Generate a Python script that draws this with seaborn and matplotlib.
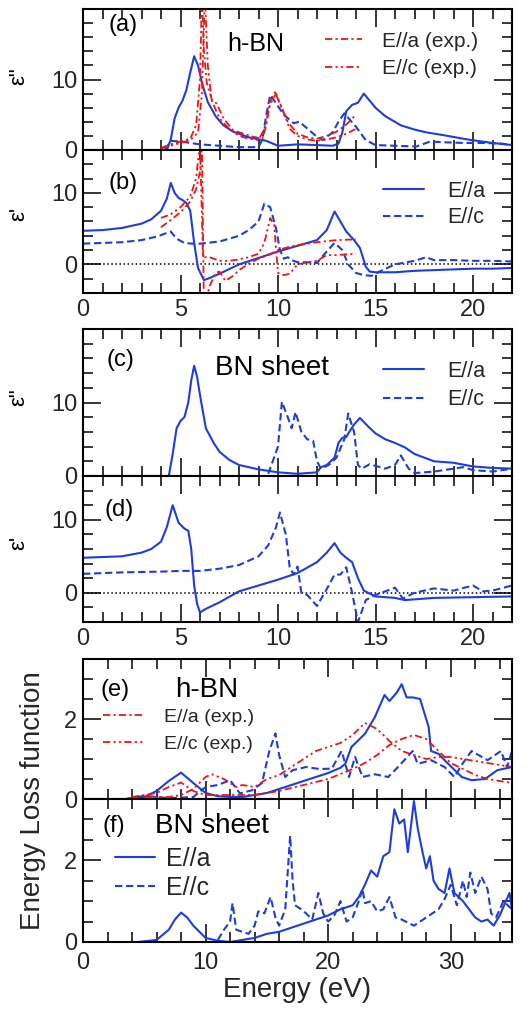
import pandas as pd
import matplotlib
matplotlib.use("Agg")
import matplotlib.pyplot as plt
from matplotlib.ticker import MultipleLocator
import seaborn as sns

# ---------------- data ----------------
# (a) h-BN, eps'' (imaginary part)
a_sol_x = [4.3, 4.5, 4.7, 4.9, 5.1, 5.3, 5.5, 5.7, 5.9, 6.1, 6.4, 6.8, 7.2, 7.7, 8.5, 9.4, 10.0, 11.0, 12.0, 12.8,
           13.1, 13.3, 13.5, 13.8, 14.1, 14.4, 14.7, 15.0, 15.5, 16.3, 17.0, 17.6, 18.5, 19.7, 21.0, 22.0]
a_sol_y = [0.0, 1.5, 4.5, 6.0, 7.0, 8.5, 11.0, 13.3, 12.0, 9.5, 6.8, 4.8, 3.5, 2.6, 1.8, 1.3, 0.6, 0.8, 0.7, 0.6,
           0.9, 2.5, 5.5, 6.4, 6.7, 8.0, 7.0, 6.0, 4.8, 3.5, 2.9, 2.5, 2.1, 1.5, 1.0, 0.7]
a_dash_x = [4.2, 4.5, 5.0, 5.5, 6.0, 7.0, 8.0, 9.0, 9.2, 9.4, 9.6, 9.8, 10.3, 10.8, 11.1, 11.9, 12.3, 12.8, 13.1,
            13.4, 14.0, 14.5, 15.0, 16.0, 17.1, 17.8, 18.5, 19.5, 20.5, 21.5, 22.0]
a_dash_y = [0.0, 1.3, 1.2, 1.0, 0.8, 0.6, 0.4, 0.4, 1.5, 5.0, 7.8, 7.0, 5.0, 3.8, 4.0, 2.1, 1.4, 2.5, 4.0,
            5.2, 3.3, 1.4, 0.7, 0.6, 0.5, 1.2, 1.1, 1.0, 1.0, 0.9, 0.7]
a_expa_x = [4.0, 4.5, 5.0, 5.5, 5.8, 6.0, 6.1, 6.2, 6.35, 6.6, 6.85, 7.2, 7.7, 8.7, 9.2, 9.4, 9.6, 9.85, 10.1,
            10.5, 11.0, 11.5, 12.0, 12.5, 13.0, 13.5, 14.0]
a_expa_y = [0.3, 0.8, 1.2, 1.6, 3.5, 10.0, 22.0, 14.0, 9.5, 7.2, 6.6, 4.5, 2.8, 1.9, 1.6, 3.5, 7.0, 8.2, 6.5,
            4.0, 2.3, 1.8, 1.6, 2.0, 2.6, 3.6, 5.0]
a_expc_x = [4.0, 4.5, 5.0, 5.5, 5.9, 6.1, 6.25, 6.4, 6.6, 7.0, 7.5, 8.0, 8.5, 9.0, 9.3, 9.6, 9.9, 10.2, 10.6,
            11.0, 11.5, 12.0, 12.5, 13.0, 13.5, 14.0]
a_expc_y = [0.2, 0.6, 1.0, 1.4, 2.5, 8.0, 22.0, 12.0, 7.0, 4.5, 3.0, 2.0, 1.6, 1.4, 3.0, 6.5, 8.0, 6.0, 3.0,
            2.0, 1.5, 1.3, 1.5, 1.8, 2.3, 3.0]

# (b) h-BN, eps' (real part)
b_sol_x = [0, 1, 2, 3, 3.5, 4.0, 4.3, 4.5, 4.7, 4.9, 5.1, 5.3, 5.5, 5.7, 5.9, 6.2, 6.5, 7.0, 8.0, 9.0, 10.0,
           11.0, 12.0, 12.5, 12.9, 13.5, 13.9, 14.2, 14.5, 14.7, 15.0, 16.0, 17.0, 18.0, 19.0, 20.0, 21.0, 22.0]
b_sol_y = [4.7, 4.8, 5.1, 5.7, 6.3, 7.5, 9.2, 11.4, 10.0, 9.3, 9.0, 8.6, 7.5, 3.0, -0.5, -2.2, -1.9, -1.3, 0.0,
           0.9, 1.8, 2.6, 3.4, 4.8, 7.4, 4.6, 3.4, 2.3, -0.3, -1.0, -1.1, -1.1, -0.9, -0.8, -0.7, -0.6, -0.6, -0.5]
b_dash_x = [0, 1, 2, 3, 3.8, 4.3, 4.5, 4.8, 5.2, 5.6, 6.0, 7.0, 8.0, 8.5, 9.0, 9.3, 9.6, 9.9, 10.1, 10.3, 10.5,
            10.7, 11.0, 11.5, 12.0, 12.4, 12.9, 13.3, 13.6, 14.0, 14.4, 14.8, 15.2, 16.0, 17.0, 17.6, 18.0, 19.0,
            20.0, 21.0, 22.0]
b_dash_y = [2.9, 3.0, 3.1, 3.4, 3.9, 4.4, 4.6, 3.6, 3.0, 2.9, 2.9, 3.2, 4.0, 4.8, 6.0, 8.5, 8.0, 5.0, 2.0, 0.8,
            1.0, 0.6, 0.3, 0.3, 0.2, 1.5, 3.0, 2.0, 0.0, -1.2, -1.5, -1.6, -1.0, 0.0, 0.5, 1.0, 0.6, 0.6, 0.5,
            0.5, 0.4]
b_expa_x = [4.0, 4.5, 5.0, 5.5, 5.8, 6.0, 6.1, 6.2, 6.5, 6.8, 7.0, 7.3, 7.7, 8.0, 8.5, 9.0, 9.5, 10.0, 10.5,
            11.0, 12.0, 13.0, 14.0]
b_expa_y = [5.2, 6.2, 7.3, 8.8, 10.5, 13.0, 17.0, -6.0, -3.0, -1.2, -1.0, -2.3, -1.6, -0.8, 0.1, 0.8, 1.3, 2.0,
            2.4, 2.7, 3.1, 3.4, 3.5]
b_expc_x = [4.0, 4.5, 5.0, 5.5, 5.8, 6.0, 6.15, 6.5, 7.0, 7.5, 8.0, 8.5, 9.0, 9.3, 9.6, 9.8, 10.0, 10.3, 10.6,
            11.0, 11.5, 12.0, 12.5, 13.0, 13.5, 14.0]
b_expc_y = [6.5, 7.0, 8.0, 9.5, 12.0, 17.0, 1.0, 1.0, 0.5, 0.5, 0.7, 1.0, 1.5, 3.0, 6.5, 5.5, -1.2, -1.5, -1.3,
            0.0, 0.3, 0.5, 1.3, 1.3, 1.4, 1.5]

# (c) BN sheet, eps''
c_sol_x = [4.4, 4.6, 4.8, 5.0, 5.2, 5.4, 5.55, 5.7, 5.85, 6.0, 6.3, 6.7, 7.0, 7.5, 8.0, 9.0, 10.0, 11.0, 12.0,
           12.2, 12.5, 12.9, 13.1, 13.3, 13.5, 13.7, 13.9, 14.2, 14.6, 15.0, 15.5, 16.0, 16.5, 17.0, 18.0, 19.0,
           20.0, 21.0, 22.0]
c_sol_y = [0.0, 3.0, 6.5, 7.5, 8.0, 10.0, 13.0, 15.0, 13.5, 11.0, 6.5, 4.5, 3.3, 2.2, 1.5, 0.9, 0.5, 0.3, 0.5,
           1.2, 1.5, 2.5, 4.5, 5.2, 5.3, 6.2, 7.0, 7.9, 6.8, 5.8, 5.0, 4.5, 3.9, 3.0, 2.0, 1.8, 1.3, 1.1, 1.0]
c_dash_x = [9.5, 10.0, 10.2, 10.5, 10.7, 10.9, 11.2, 11.5, 11.8, 12.0, 12.2, 12.6, 13.0, 13.4, 13.6, 13.9, 14.1,
            14.3, 14.7, 15.5, 16.0, 16.3, 16.7, 17.0, 18.0, 19.0, 19.5, 20.0, 21.0, 22.0]
c_dash_y = [0.3, 4.0, 10.1, 8.0, 6.5, 8.7, 6.0, 5.0, 4.8, 2.0, 1.0, 1.5, 2.5, 5.0, 8.5, 6.0, 1.5, 1.0, 1.6, 1.0,
            1.5, 2.8, 1.0, 0.4, 0.6, 1.0, 1.2, 0.8, 0.6, 1.0]

# (d) BN sheet, eps'
d_sol_x = [0, 1, 2, 3, 3.5, 4.0, 4.3, 4.6, 4.9, 5.2, 5.4, 5.55, 5.7, 5.85, 6.0, 6.3, 7.0, 8.0, 9.0, 10.0, 11.0,
           12.0, 12.5, 12.9, 13.2, 13.5, 13.8, 14.1, 14.4, 15.0, 16.0, 16.5, 17.0, 18.0, 20.0, 22.0]
d_sol_y = [4.8, 4.9, 5.0, 5.5, 6.0, 7.0, 9.0, 12.0, 9.6, 8.8, 8.5, 6.0, 1.0, -1.5, -2.7, -2.2, -1.3, 0.2, 1.0,
           1.8, 2.7, 4.2, 5.5, 6.8, 5.5, 4.8, 4.2, 2.0, 0.3, -0.5, -0.7, -1.0, -0.9, -0.7, -0.6, -0.5]
d_dash_x = [0, 2, 4, 5, 6, 7, 8, 9, 9.5, 9.9, 10.1, 10.4, 10.6, 10.8, 11.0, 11.2, 11.5, 12.0, 12.5, 12.9, 13.2,
            13.5, 13.8, 14.1, 14.5, 15.0, 16.0, 16.4, 17.0, 18.0, 19.0, 20.0, 20.5, 21.0, 22.0]
d_dash_y = [2.6, 2.8, 2.9, 3.0, 3.0, 3.3, 3.8, 5.0, 6.5, 9.0, 11.0, 8.0, 3.5, 2.5, 3.6, 0.0, -0.3, -1.8, 0.5,
            2.5, 2.5, 3.5, 0.0, -4.0, -1.0, -0.3, 0.7, -0.8, 0.0, 0.6, 0.3, 1.0, 0.2, 0.3, 1.0]

# (e) h-BN, energy loss function
e_sol_x = [3.5, 5, 6, 7, 8, 9, 10, 11, 12, 13, 14, 15, 16, 17, 18, 19, 20, 21, 21.4, 21.9, 23.0, 23.8, 24.6,
           25.0, 25.6, 26.0, 26.4, 26.9, 27.5, 28.2, 28.4, 29.0, 29.5, 30.9, 31.7, 32.8, 33.8, 35.0]
e_sol_y = [0.0, 0.05, 0.2, 0.45, 0.66, 0.4, 0.15, 0.07, 0.05, 0.05, 0.1, 0.15, 0.25, 0.35, 0.45, 0.55, 0.65,
           0.78, 0.88, 1.3, 1.63, 2.04, 2.6, 2.45, 2.66, 2.87, 2.54, 2.54, 2.5, 1.8, 1.2, 1.13, 0.97, 0.55, 0.47,
           0.5, 0.72, 0.8]
e_dash_x = [3.5, 5, 7, 9, 10, 11, 12, 12.8, 13.8, 14.6, 15.2, 15.7, 16.0, 16.5, 17.1, 18.2, 19.3, 20.3, 21.1,
            21.7, 22.2, 22.8, 23.8, 24.9, 25.7, 26.9, 27.3, 28.4, 29.5, 30.3, 31.0, 31.7, 33.0, 34.1, 34.6, 35.0]
e_dash_y = [0.0, 0.08, 0.02, 0.05, 0.3, 0.35, 0.47, 0.14, 0.22, 0.4, 1.2, 1.64, 1.1, 0.55, 0.72, 0.8, 0.75,
            0.76, 1.2, 0.55, 1.05, 0.55, 0.62, 0.55, 0.8, 1.2, 0.88, 0.97, 0.8, 0.55, 0.9, 1.2, 0.97, 1.2, 0.8,
            1.2]
e_expa_x = [4, 6, 7, 8, 9, 10, 12, 14, 16, 18, 20, 22, 23, 24, 25, 26, 27, 28, 29, 30, 32, 33, 34, 35]
e_expa_y = [0.05, 0.15, 0.3, 0.41, 0.2, 0.1, 0.1, 0.1, 0.2, 0.35, 0.5, 0.75, 0.9, 1.1, 1.35, 1.5, 1.6, 1.5,
            1.2, 0.9, 0.6, 0.5, 0.45, 0.4]
e_expc_x = [5, 7, 8, 9, 10, 10.5, 11.5, 12.5, 13, 14, 15, 16, 17, 18, 19, 20, 21, 22, 23, 24, 25, 26, 27, 28,
            29, 30, 31, 32, 33, 34, 35]
e_expc_y = [0.05, 0.05, 0.1, 0.25, 0.55, 0.62, 0.5, 0.3, 0.35, 0.3, 0.5, 0.6, 0.8, 1.0, 1.2, 1.3, 1.4, 1.6,
            1.9, 1.75, 1.45, 1.2, 1.1, 1.0, 1.05, 1.05, 1.0, 0.95, 0.9, 0.85, 0.8]

# (f) BN sheet, energy loss function
f_sol_x = [4.5, 6, 7, 7.5, 8, 8.5, 9, 10, 11, 12, 13, 14, 15, 16, 17, 18, 19, 20, 21, 22, 22.5, 23, 23.5, 24,
           24.5, 25, 25.4, 25.8, 26.2, 26.5, 27.0, 27.3, 27.7, 28.0, 28.3, 28.6, 29.0, 29.5, 29.9, 30.3, 31.0,
           31.5, 32.0, 32.5, 33.0, 33.5, 34.0, 34.5, 34.8, 35.0]
f_sol_y = [0.0, 0.05, 0.3, 0.55, 0.72, 0.6, 0.4, 0.1, 0.03, 0.0, 0.05, 0.1, 0.2, 0.25, 0.35, 0.45, 0.55, 0.65,
           0.8, 0.9, 1.1, 1.4, 1.75, 1.6, 2.1, 2.2, 3.25, 2.9, 3.0, 2.2, 3.45, 2.8, 2.2, 1.8, 2.1, 1.5, 1.3, 1.2,
           1.8, 1.2, 1.0, 0.8, 0.6, 0.5, 0.55, 0.4, 0.65, 1.0, 1.2, 0.8]
f_dash_x = [11, 11.5, 12, 12.2, 12.5, 13, 13.5, 14, 14.3, 14.8, 15.3, 15.7, 16, 16.5, 16.9, 17.1, 17.3, 17.8,
            18.2, 18.7, 19.2, 19.6, 20, 20.5, 21, 21.5, 22, 22.5, 22.8, 23, 23.5, 24, 24.5, 25, 25.5, 26, 27,
            27.5, 28, 29, 29.5, 30, 30.5, 31, 31.3, 31.6, 32, 32.5, 33, 33.3, 33.7, 34.3, 35]
f_dash_y = [0.05, 0.3, 0.5, 0.95, 0.3, 0.25, 0.2, 0.4, 0.75, 0.7, 1.1, 0.6, 0.4, 0.8, 2.6, 1.5, 0.9, 0.8, 0.7,
            0.55, 1.2, 0.7, 0.5, 0.65, 1.0, 0.5, 0.6, 1.0, 1.3, 0.95, 1.0, 0.75, 0.8, 1.1, 0.6, 0.55, 0.4, 0.5,
            0.6, 0.8, 1.05, 1.4, 0.9, 1.5, 1.1, 1.7, 1.2, 1.6, 1.3, 0.7, 0.6, 1.0, 0.8]

# ---------------- style ----------------
sns.set_theme(style="ticks")
plt.rcParams['font.family'] = ['Liberation Sans', 'DejaVu Sans']

BLUE = '#1f3ddb'
RED = '#f01414'
SOLID = '-'
DASH = (0, (3.5, 1.8))
DASHDOT = (0, (4, 1.8, 1.2, 1.8))
DASHDOTDOT = (0, (4, 1.8, 1.2, 1.8, 1.2, 1.8))

W, H = 531, 1010
fig = plt.figure(figsize=(W / 100, H / 100), dpi=100)
fig.patch.set_facecolor('white')


def panel(top, bottom):
    return fig.add_axes([83 / W, 1 - bottom / H, 429 / W, (bottom - top) / H])


def curve(ax, x, y, color, ls, lw=1.5):
    df = pd.DataFrame({'E': x, 'v': y})
    sns.lineplot(data=df, x='E', y='v', ax=ax, color=color, linestyle=ls, lw=lw,
                 sort=False, estimator=None, legend=False)
    return ax.lines[-1]


def style_axes(ax, xlim, ylim, xmaj, xmin, ymaj, ymin, xlabels):
    ax.set_xlim(*xlim)
    ax.set_ylim(*ylim)
    ax.xaxis.set_major_locator(MultipleLocator(xmaj))
    ax.xaxis.set_minor_locator(MultipleLocator(xmin))
    ax.set_yticks(ymaj)
    ax.yaxis.set_minor_locator(MultipleLocator(ymin))
    ax.tick_params(which='both', direction='in', top=True, right=True, color='black', width=1.1,
                   labelsize=17, labelbottom=xlabels, pad=4)
    ax.tick_params(which='major', length=13)
    ax.tick_params(which='minor', length=7)
    ax.set_xlabel('')
    ax.set_ylabel('')
    for s in ax.spines.values():
        s.set_color('black')
        s.set_linewidth(1.5)


def ftext(x, y, s, size, **kw):
    kw.setdefault('ha', 'left')
    fig.text(x / W, 1 - y / H, s, fontsize=size, va='center', color='black', **kw)


def leg(ax, handles, labels, x, y, size, hl, tp, sp):
    ax.legend(handles, labels, loc='upper left', bbox_to_anchor=(x, y), frameon=False, fontsize=size,
              handlelength=hl, handletextpad=tp, labelspacing=sp, borderpad=0, borderaxespad=0)


# (a)
ax = panel(9, 150)
curve(ax, a_sol_x, a_sol_y, BLUE, SOLID)
curve(ax, a_dash_x, a_dash_y, BLUE, DASH)
ha = curve(ax, a_expa_x, a_expa_y, RED, DASHDOT, lw=1.3)
hc = curve(ax, a_expc_x, a_expc_y, RED, DASHDOTDOT, lw=1.3)
style_axes(ax, (0, 22), (0, 20), 5, 1, [0, 10], 2, False)
leg(ax, [ha, hc], ['E//a (exp.)', 'E//c (exp.)'], 0.564, 0.84, 15, 1.8, 0.95, 0.4)

# (b)
ax = panel(150, 293)
ax.axhline(0, color='black', ls=':', lw=1.1)
hs = curve(ax, b_sol_x, b_sol_y, BLUE, SOLID)
hd = curve(ax, b_dash_x, b_dash_y, BLUE, DASH)
curve(ax, b_expa_x, b_expa_y, RED, DASHDOT, lw=1.3)
curve(ax, b_expc_x, b_expc_y, RED, DASHDOTDOT, lw=1.3)
style_axes(ax, (0, 22), (-4, 16), 5, 1, [0, 10], 2, True)
leg(ax, [hs, hd], ['E//a', 'E//c'], 0.70, 0.785, 15.5, 1.9, 1.05, 0.25)

# (c)
ax = panel(329, 476)
hs = curve(ax, c_sol_x, c_sol_y, BLUE, SOLID)
hd = curve(ax, c_dash_x, c_dash_y, BLUE, DASH)
style_axes(ax, (0, 22), (0, 20), 5, 1, [0, 10], 2, False)
leg(ax, [hs, hd], ['E//a', 'E//c'], 0.70, 0.785, 15.5, 1.9, 1.05, 0.35)

# (d)
ax = panel(476, 622)
ax.axhline(0, color='black', ls=':', lw=1.1)
curve(ax, d_sol_x, d_sol_y, BLUE, SOLID)
curve(ax, d_dash_x, d_dash_y, BLUE, DASH)
style_axes(ax, (0, 22), (-4, 16), 5, 1, [0, 10], 2, True)

# (e)
ax = panel(659, 799)
curve(ax, e_sol_x, e_sol_y, BLUE, SOLID)
curve(ax, e_dash_x, e_dash_y, BLUE, DASH)
ha = curve(ax, e_expa_x, e_expa_y, RED, DASHDOT, lw=1.3)
hc = curve(ax, e_expc_x, e_expc_y, RED, DASHDOTDOT, lw=1.3)
style_axes(ax, (0, 35), (0, 3.5), 10, 2, [0, 2], 0.5, False)
leg(ax, [ha, hc], ['E//a (exp.)', 'E//c (exp.)'], 0.047, 0.65, 14, 2.05, 1.1, 0.5)

# (f)
ax = panel(799, 942)
hs = curve(ax, f_sol_x, f_sol_y, BLUE, SOLID)
hd = curve(ax, f_dash_x, f_dash_y, BLUE, DASH)
style_axes(ax, (0, 35), (0, 3.5), 10, 2, [0, 2], 0.5, True)
ax.tick_params(axis='x', pad=7)
leg(ax, [hs, hd], ['E//a', 'E//c'], 0.075, 0.665, 18, 1.6, 0.45, 0.2)

# y labels of the dielectric panels
ftext(19, 76, 'ε"', 16, ha='center', rotation=90)
ftext(19, 214, "ε'", 16, ha='center', rotation=90)
ftext(19, 397, 'ε"', 16, ha='center', rotation=90)
ftext(19, 543, "ε'", 16, ha='center', rotation=90)

# panel annotations
ftext(108, 25, '(a)', 17)
ftext(227, 44, 'h-BN', 18)
ftext(108, 183, '(b)', 17)
ftext(107, 360, '(c)', 17)
ftext(215, 368, 'BN sheet', 20)
ftext(105, 510, '(d)', 17)
ftext(100, 690, '(e)', 17)
ftext(175, 690, 'h-BN', 20)
ftext(102, 826, '(f)', 17)
ftext(155, 826, 'BN sheet', 20)

fig.text(33 / W, 1 - 801 / H, 'Energy Loss function', fontsize=20, rotation=90, ha='center', va='center')
fig.text(297 / W, 1 - 990 / H, 'Energy (eV)', fontsize=20, ha='center', va='center')

fig.savefig('out.png', dpi=100, facecolor='white')
